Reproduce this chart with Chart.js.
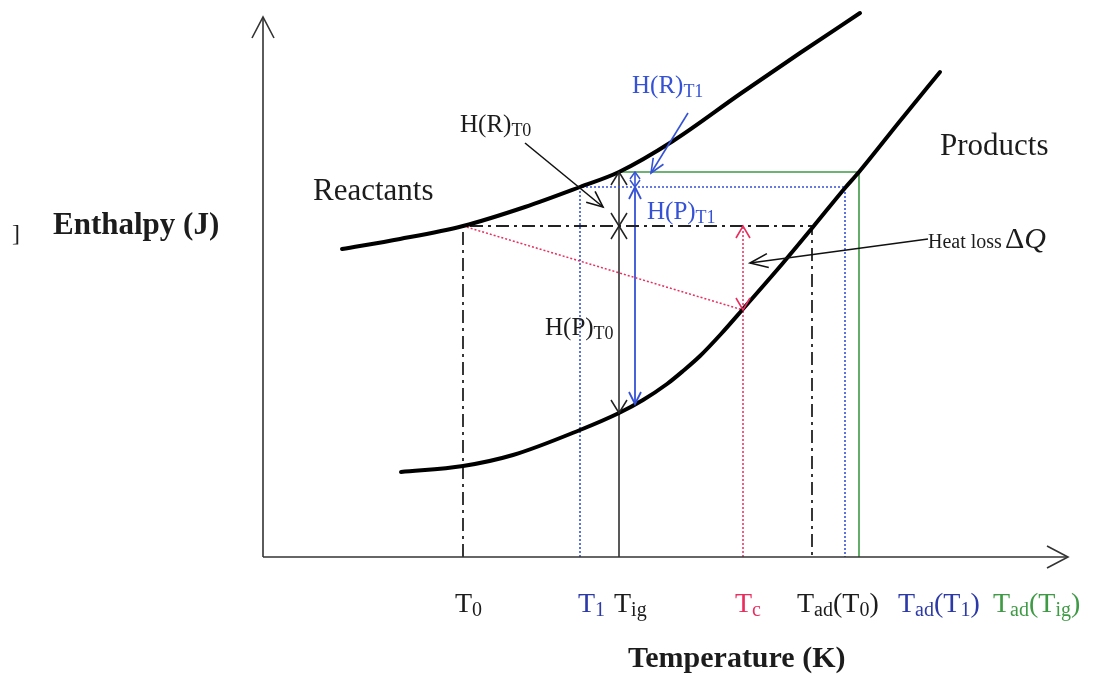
<!DOCTYPE html>
<html>
<head>
<meta charset="utf-8">
<title>Enthalpy - temperature diagram</title>
<script src="https://cdn.jsdelivr.net/npm/chart.js@4"></script>
<style>
  html, body { margin: 0; padding: 0; background: #fff; }
  canvas { display: block; }
</style>
</head>
<body>
<canvas id="chart" width="1104" height="676"></canvas>
<script>
// temperatures marked on the x axis (origin at the enthalpy axis)
const tickNames = ['T_{0}', 'T_{1}', 'T_{ig}', 'T_{c}', 'T_{ad}(T_{0})', 'T_{ad}(T_{1})', 'T_{ad}(T_{ig})'];
const tickTemps = [200, 317, 356, 480, 549, 582, 596];

// enthalpy curves
const reactantT = [79, 137, 200, 262, 317, 356, 410, 477, 537, 597];
const reactantH = [308, 318, 331, 350, 370, 385, 416, 463, 504, 544];
const productT = [138, 200, 250, 317, 356, 380, 404, 420, 437, 458, 480, 520, 550, 582, 596, 637, 677];
const productH = [85, 91, 102, 127, 144, 157, 173, 186, 201, 223, 248, 294, 330, 369, 385, 436, 485];

// reactant enthalpy at T0, T1, Tig
const levelH = [331, 370, 385];
// product enthalpy where the arrows land
const prodAtTig = 144;
const prodAtTc = 247;
const prodAtArrow = 153;
const arrowT = 372;

const BLUE = '#3552d6';
const BLUE_TXT = '#2c3aa8';
const GREEN = '#3f9a45';
const RED = '#ea2d5e';
const INK = '#1c1c1c';
const SERIF = '"Liberation Serif", "Times New Roman", serif';

const tickColors = [INK, BLUE_TXT, INK, RED, INK, BLUE_TXT, GREEN];
const tickLabelX = [192, 315, 351, 472, 534, 635, 730];

const pts = (xs, ys) => xs.map((v, i) => ({ x: v, y: ys[i] }));

function line(data, color, width, dash) {
  return {
    data: data,
    borderColor: color,
    borderWidth: width,
    borderDash: dash || [],
    pointRadius: 0,
    tension: 0,
    fill: false
  };
}

function curve(data) {
  return {
    data: data,
    borderColor: '#000',
    borderWidth: 4,
    pointRadius: 0,
    cubicInterpolationMode: 'monotone',
    borderCapStyle: 'round',
    fill: false
  };
}

const [T0, T1, Tig, Tc, TadT0, TadT1, TadTig] = tickTemps;
const [hT0, hT1, hTig] = levelH;
const DASHDOT = [13, 5, 3, 5];

const datasets = [
  curve(pts(reactantT, reactantH)),
  curve(pts(productT, productH)),
  // axes
  line([{ x: 0, y: 0 }, { x: 0, y: 540 }], '#333', 1.6),
  line([{ x: 0, y: 0 }, { x: 805, y: 0 }], '#333', 1.6),
  // T0 case
  line([{ x: T0, y: 0 }, { x: T0, y: hT0 }, { x: TadT0, y: hT0 }, { x: TadT0, y: 0 }], '#222', 1.8, DASHDOT),
  // T1 case
  line([{ x: T1, y: 0 }, { x: T1, y: hT1 }, { x: TadT1, y: hT1 }, { x: TadT1, y: 0 }], BLUE, 1.6, [2, 2]),
  // ignition case
  line([{ x: Tig, y: hTig }, { x: TadTig, y: hTig }, { x: TadTig, y: 0 }], GREEN, 1.6),
  line([{ x: Tig, y: 0 }, { x: Tig, y: hTig }], '#222', 1.5),
  // heat loss
  line([{ x: T0, y: hT0 }, { x: Tc, y: prodAtTc }], RED, 1.5, [2, 2]),
  line([{ x: Tc, y: 0 }, { x: Tc, y: hT0 }], RED, 1.5, [2, 2]),
  // H(P)T1 arrow
  line([{ x: arrowT, y: prodAtArrow }, { x: arrowT, y: hT1 }], BLUE, 1.8),
  line([{ x: arrowT, y: hT1 }, { x: arrowT, y: hTig }], BLUE, 1.6)
];

// text labels: [text, T, H, size, colour, bold]
const labels = [
  ['Enthalpy (J)', -210, 323, 31, INK, true],
  ['Temperature (K)', 365, -110, 30, INK, true],
  [']', -251, 316, 24, INK, false],
  ['Reactants', 50, 357, 31, INK, false],
  ['Products', 677, 402, 31, INK, false],
  ['H(R)_{T0}', 197, 425, 25, INK, false],
  ['H(R)_{T1}', 369, 464, 25, BLUE, false],
  ['H(P)_{T1}', 384, 338, 25, BLUE, false],
  ['H(P)_{T0}', 282, 222, 25, INK, false]
];

function parts(str) {
  const out = [];
  const re = /_\{([^}]*)\}/g;
  let last = 0, m;
  while ((m = re.exec(str))) {
    if (m.index > last) out.push({ t: str.slice(last, m.index) });
    out.push({ t: m[1], sub: true });
    last = re.lastIndex;
  }
  if (last < str.length) out.push({ t: str.slice(last) });
  return out;
}

function rich(ctx, str, x, y, size, color, bold) {
  let cx = x;
  ctx.fillStyle = color;
  ctx.textBaseline = 'alphabetic';
  ctx.textAlign = 'left';
  parts(str).forEach(p => {
    const s = p.sub ? Math.round(size * 0.72) : size;
    ctx.font = (bold ? 'bold ' : '') + s + 'px ' + SERIF;
    ctx.fillText(p.t, cx, y + (p.sub ? size * 0.16 : 0));
    cx += ctx.measureText(p.t).width;
  });
}

// open V arrow head with its tip at (x2, y2)
function head(ctx, x1, y1, x2, y2, len, half, color, lw) {
  const a = Math.atan2(y2 - y1, x2 - x1);
  const bx = x2 - len * Math.cos(a), by = y2 - len * Math.sin(a);
  const nx = -Math.sin(a) * half, ny = Math.cos(a) * half;
  ctx.strokeStyle = color;
  ctx.lineWidth = lw;
  ctx.setLineDash([]);
  ctx.beginPath();
  ctx.moveTo(bx + nx, by + ny);
  ctx.lineTo(x2, y2);
  ctx.lineTo(bx - nx, by - ny);
  ctx.stroke();
}

function arrow(ctx, x1, y1, x2, y2, color, lw, len, half) {
  ctx.strokeStyle = color;
  ctx.lineWidth = lw;
  ctx.setLineDash([]);
  ctx.beginPath();
  ctx.moveTo(x1, y1);
  ctx.lineTo(x2, y2);
  ctx.stroke();
  head(ctx, x1, y1, x2, y2, len, half, color, lw);
}

const annotations = {
  id: 'annotations',
  afterDatasetsDraw(chart) {
    const ctx = chart.ctx;
    const X = v => chart.scales.x.getPixelForValue(v);
    const Y = v => chart.scales.y.getPixelForValue(v);
    ctx.save();

    // axis arrow heads
    head(ctx, X(0), Y(0), X(0), Y(540), 21, 11, '#333', 1.6);
    head(ctx, X(0), Y(0), X(805), Y(0), 21, 11, '#333', 1.6);

    // black double arrows on the Tig line
    head(ctx, X(Tig), Y(hT0), X(Tig), Y(hTig), 13, 8, '#222', 1.5);
    head(ctx, X(Tig), Y(hTig), X(Tig), Y(hT0), 13, 8, '#222', 1.5);
    head(ctx, X(Tig), Y(prodAtTig), X(Tig), Y(hT0), 13, 8, '#222', 1.5);
    head(ctx, X(Tig), Y(hT0), X(Tig), Y(prodAtTig), 13, 8, '#222', 1.5);

    // blue arrows
    head(ctx, X(arrowT), Y(prodAtArrow), X(arrowT), Y(hT1), 12, 6, BLUE, 1.8);
    head(ctx, X(arrowT), Y(hT1), X(arrowT), Y(prodAtArrow), 12, 6, BLUE, 1.8);
    head(ctx, X(arrowT), Y(hT1), X(arrowT), Y(hTig), 7, 5, BLUE, 1.5);
    head(ctx, X(arrowT), Y(hTig), X(arrowT), Y(hT1), 7, 5, BLUE, 1.5);

    // red heat loss double arrow
    head(ctx, X(Tc), Y(prodAtTc), X(Tc), Y(hT0), 12, 7, RED, 1.6);
    head(ctx, X(Tc), Y(hT0), X(Tc), Y(prodAtTc), 12, 7, RED, 1.6);

    // pointer arrows
    arrow(ctx, X(262), Y(414), X(340), Y(350), '#111', 1.6, 16, 7);
    arrow(ctx, X(425), Y(444), X(388), Y(384), BLUE, 1.6, 14, 6);
    arrow(ctx, X(665), Y(318), X(487), Y(294), '#111', 1.6, 18, 7);

    // tick labels
    tickNames.forEach((name, i) => {
      rich(ctx, name, X(tickLabelX[i]), Y(-55), 28, tickColors[i], false);
    });

    labels.forEach(l => rich(ctx, l[0], X(l[1]), Y(l[2]), l[3], l[4], l[5]));

    // heat loss label
    ctx.fillStyle = INK;
    ctx.font = '20px ' + SERIF;
    ctx.fillText('Heat loss', X(665), Y(309));
    let cx = X(665) + ctx.measureText('Heat loss').width + 3;
    ctx.font = '30px ' + SERIF;
    ctx.fillText('\u0394', cx, Y(309));
    cx += ctx.measureText('\u0394').width;
    ctx.font = 'italic 30px ' + SERIF;
    ctx.fillText('Q', cx, Y(309));

    ctx.restore();
  }
};

new Chart(document.getElementById('chart'), {
  type: 'line',
  data: { datasets: datasets },
  options: {
    responsive: false,
    devicePixelRatio: 1,
    animation: false,
    events: [],
    layout: { padding: 0 },
    plugins: { legend: { display: false }, tooltip: { enabled: false }, title: { display: false } },
    scales: {
      x: { type: 'linear', min: -263, max: 841, display: false },
      y: { type: 'linear', min: -119, max: 557, display: false }
    }
  },
  plugins: [annotations]
});
</script>
</body>
</html>
